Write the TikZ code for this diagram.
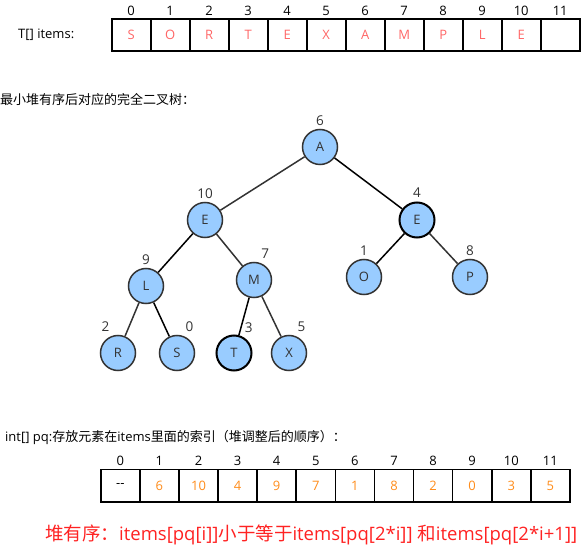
\documentclass[tikz,border=0pt]{standalone}
\usepackage{fontspec}
\setmainfont{Open Sans}
\newfontfamily\cjk{Noto Sans CJK SC}
\usepackage{tikz}
\usetikzlibrary{positioning}
\definecolor{keyblue}{RGB}{153, 204, 255}
\definecolor{edgegray}{RGB}{51, 51, 51}
\definecolor{itemred}{RGB}{255, 102, 102}
\definecolor{pqorange}{RGB}{255, 140, 26}
\definecolor{notered}{RGB}{255, 34, 34}
\tikzset{
    cellbox/.style={draw, rectangle, line width=1.6pt, minimum width=39pt, minimum height=32pt, inner sep=0pt, outer sep=0pt, font=\fontsize{13}{15}\selectfont, label distance=4pt},
    itemcell/.style={cellbox, text=itemred},
    pqcell/.style={cellbox, minimum width=39.1pt, minimum height=32.4pt, text=pqorange, label distance=3.5pt},
    idx/.style={font=\fontsize{13}{15}\selectfont, text=black},
    heapnode/.style={circle, draw=edgegray, line width=1.5pt, fill=keyblue, minimum size=35pt, inner sep=0pt, font=\fontsize{13}{15}\selectfont, text=edgegray, label distance=1.5pt},
    boldnode/.style={heapnode, draw=black, line width=2pt},
    heapidx/.style={font=\fontsize{13.5}{15}\selectfont, text=edgegray},
    heapedge/.style={draw=edgegray, line width=1.5pt},
    darkedge/.style={heapedge, draw=black},
    caption/.style={anchor=west, font=\fontsize{13}{15}\selectfont, inner sep=0pt},
}

\begin{document}
\begin{tikzpicture}[x=1pt, y=-1pt]
    \useasboundingbox (0,0) rectangle (581,545);
    % items array
    \node[caption] (itemstitle) at (18,35) {T[] items:};
    \node[itemcell, label={[idx]above:0}] (i0) at (131.2,35) {S};
    \node[itemcell, label={[idx]above:1}, right=0pt of i0] (i1) {O};
    \node[itemcell, label={[idx]above:2}, right=0pt of i1] (i2) {R};
    \node[itemcell, label={[idx]above:3}, right=0pt of i2] (i3) {T};
    \node[itemcell, label={[idx]above:4}, right=0pt of i3] (i4) {E};
    \node[itemcell, label={[idx]above:5}, right=0pt of i4] (i5) {X};
    \node[itemcell, label={[idx]above:6}, right=0pt of i5] (i6) {A};
    \node[itemcell, label={[idx]above:7}, right=0pt of i6] (i7) {M};
    \node[itemcell, label={[idx]above:8}, right=0pt of i7] (i8) {P};
    \node[itemcell, label={[idx]above:9}, right=0pt of i8] (i9) {L};
    \node[itemcell, label={[idx]above:10}, right=0pt of i9] (i10) {E};
    \node[itemcell, label={[idx]above:11}, right=0pt of i10] (i11) {};

    % heap tree
    \node[caption] (treetitle) at (0,100) {\cjk 最小堆有序后对应的完全二叉树：};
    \node[heapnode, label={[heapidx]above:6}] (ka) at (320,147) {A};
    \node[heapnode, label={[heapidx]above:10}] (ke1) at (205,220) {E};
    \node[boldnode, label={[heapidx]above:4}] (ke2) at (417,220) {E};
    \node[heapnode, label={[heapidx]above:9}] (kl) at (146,286) {L};
    \node[heapnode, label={[heapidx]78:7}] (km) at (254,280) {M};
    \node[heapnode, label={[heapidx]above:1}] (ko) at (364,277) {O};
    \node[heapnode, label={[heapidx]above:8}] (kp) at (470,277) {P};
    \node[heapnode, label={[heapidx]106:2}] (kr) at (118,353) {R};
    \node[heapnode, label={[heapidx]74:0}] (ks) at (177,353) {S};
    \node[boldnode, label={[heapidx]67:3}] (kt) at (234,353) {T};
    \node[heapnode, label={[heapidx]74:5}] (kx) at (289,353) {X};

    \draw[heapedge] (ka) -- (ke1);
    \draw[darkedge] (ka) -- (ke2);
    \draw[darkedge] (ke1) -- (kl);
    \draw[heapedge] (ke1) -- (km);
    \draw[darkedge] (ke2) -- (ko);
    \draw[heapedge] (ke2) -- (kp);
    \draw[heapedge] (kl) -- (kr);
    \draw[darkedge] (kl) -- (ks);
    \draw[darkedge] (km) -- (kt);
    \draw[heapedge] (km) -- (kx);

    % pq array
    \node[caption] (pqtitle) at (5,437) {int[] pq:{\cjk 存放元素在}items{\cjk 里面的索引（堆调整后的顺序）：}};
    \node[pqcell, text=black, label={[idx]above:0}] (p0) at (120.3,485.5) {-{}-};
    \node[pqcell, label={[idx]above:1}, right=0pt of p0] (p1) {6};
    \node[pqcell, label={[idx]above:2}, right=0pt of p1] (p2) {10};
    \node[pqcell, label={[idx]above:3}, right=0pt of p2] (p3) {4};
    \node[pqcell, label={[idx]above:4}, right=0pt of p3] (p4) {9};
    \node[pqcell, label={[idx]above:5}, right=0pt of p4] (p5) {7};
    \node[pqcell, label={[idx]above:6}, right=0pt of p5] (p6) {1};
    \node[pqcell, label={[idx]above:7}, right=0pt of p6] (p7) {8};
    \node[pqcell, label={[idx]above:8}, right=0pt of p7] (p8) {2};
    \node[pqcell, label={[idx]above:9}, right=0pt of p8] (p9) {0};
    \node[pqcell, label={[idx]above:10}, right=0pt of p9] (p10) {3};
    \node[pqcell, label={[idx]above:11}, right=0pt of p10] (p11) {5};

    \node[caption, font=\fontsize{18.5}{22}\selectfont, text=notered] (rule) at (45,535)
          {{\cjk 堆有序：}items[pq[i]]{\cjk 小于等于}items[pq[2*i]] {\cjk 和}items[pq[2*i+1]]};
\end{tikzpicture}
\end{document}
